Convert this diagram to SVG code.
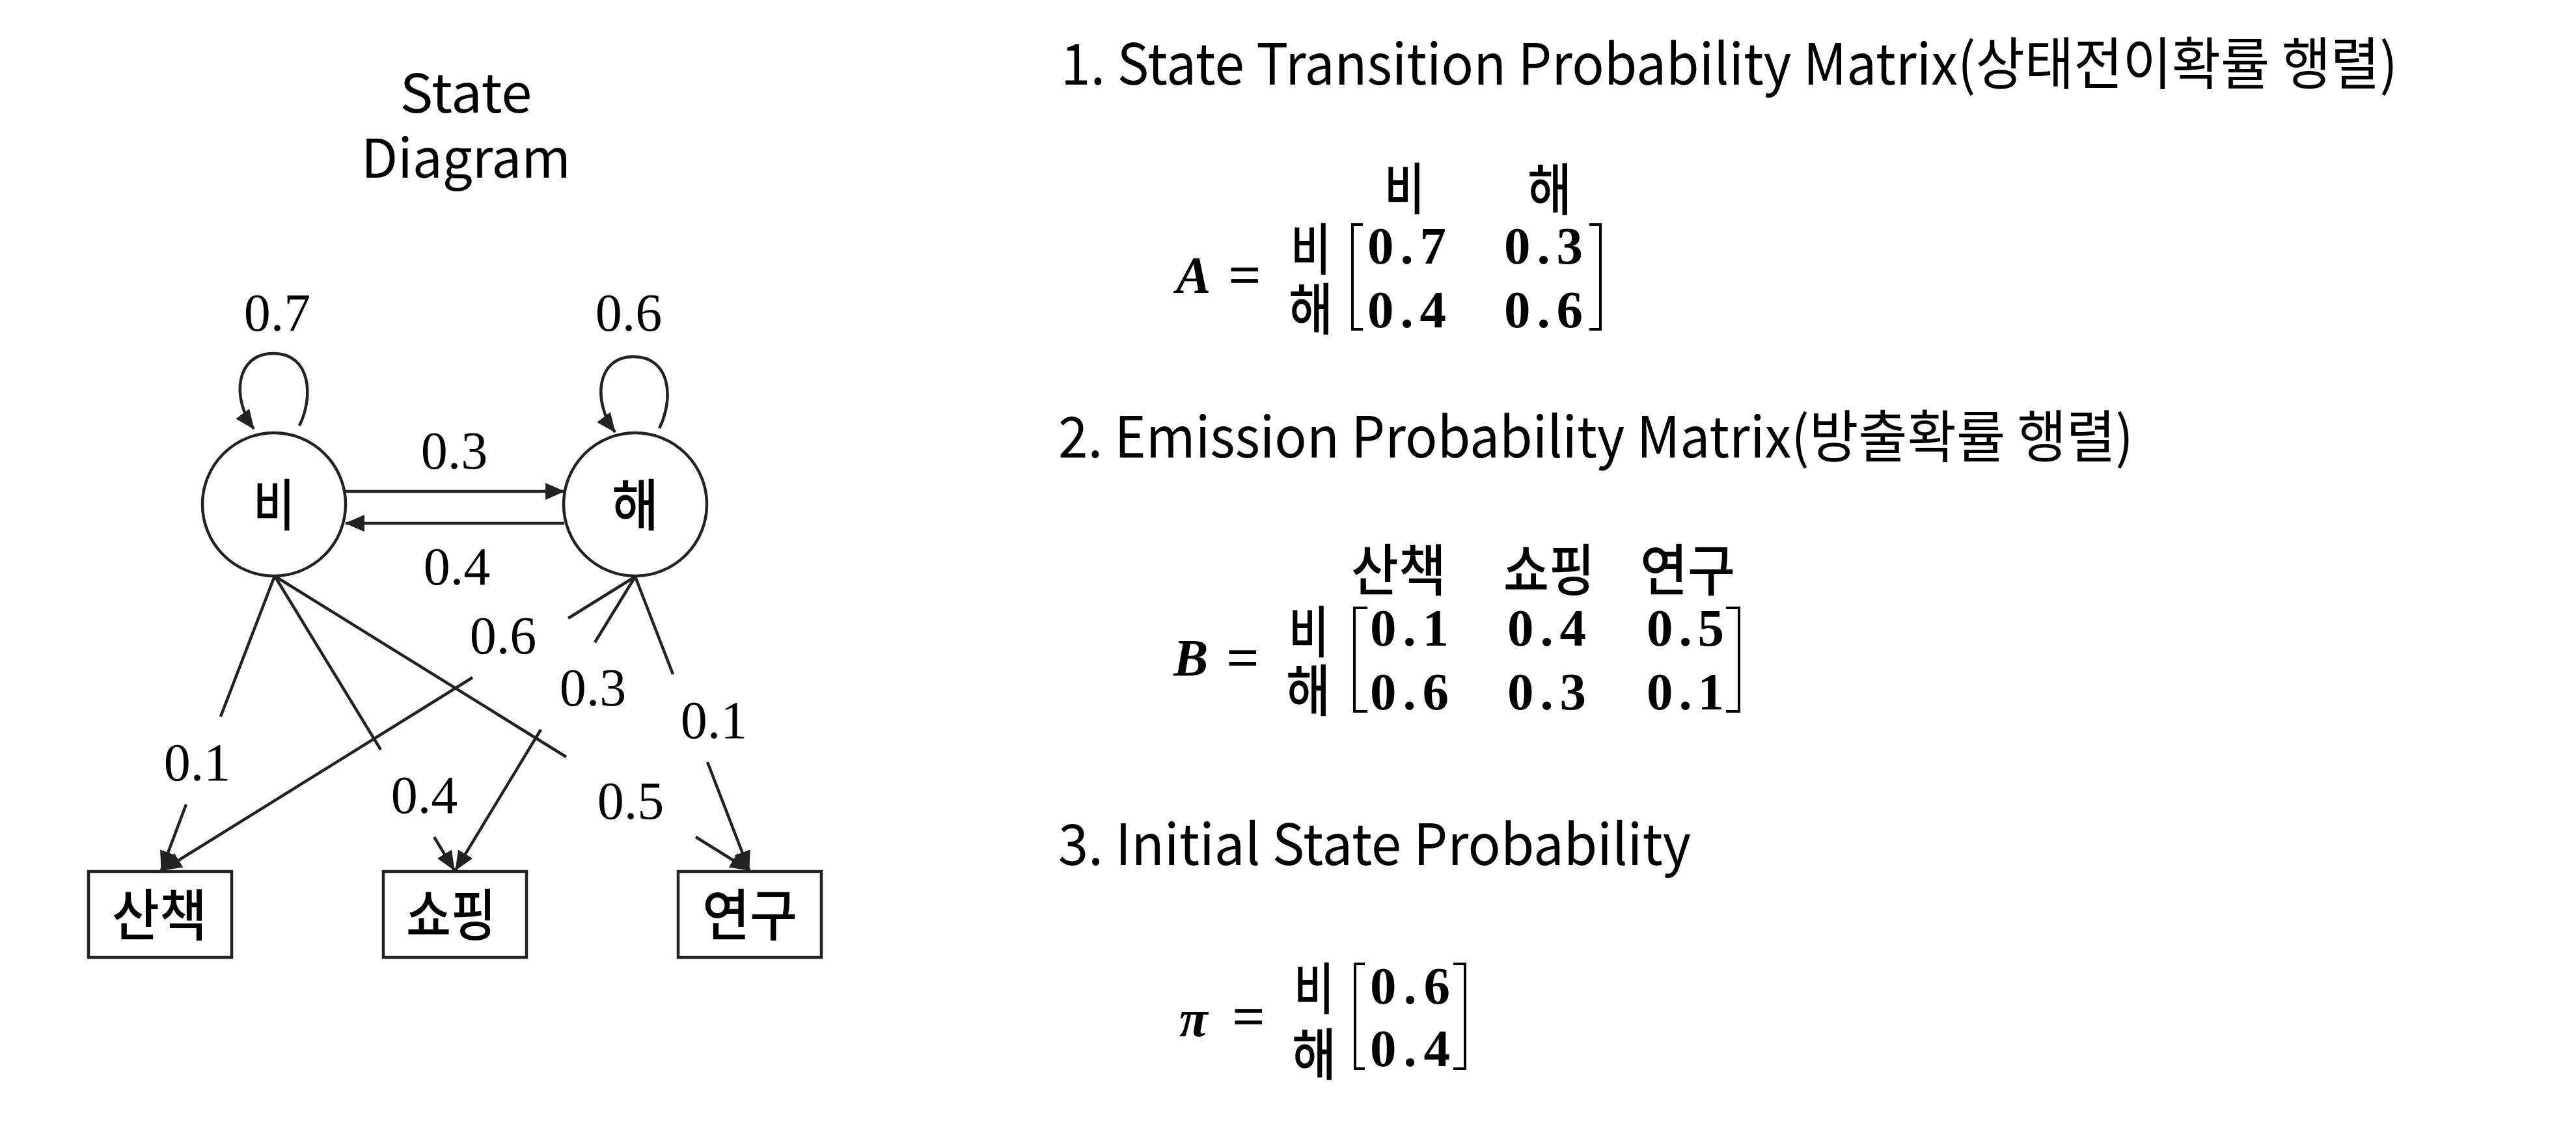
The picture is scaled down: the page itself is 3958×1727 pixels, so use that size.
<svg xmlns="http://www.w3.org/2000/svg" width="3958" height="1727" viewBox="0 0 3958 1727">
<style>
.sans{font-family:"Noto Sans CJK KR","Noto Sans",sans-serif;fill:#000}
.ko{font-family:"Noto Sans CJK KR","Noto Sans",sans-serif;font-size:86px;font-weight:500;text-anchor:middle;fill:#000}
.lab{font-family:"Liberation Serif",serif;font-size:82px;text-anchor:middle;fill:#000}
.num{font-family:"Liberation Serif",serif;font-weight:bold;font-size:81px;fill:#000}
.var{font-family:"Liberation Serif",serif;font-weight:bold;font-style:italic;font-size:80px;fill:#000}
.eq{font-family:"Liberation Serif",serif;font-size:86px;fill:#000;stroke:#000;stroke-width:1.5}
.ln{stroke:#222;stroke-width:4.5;fill:none}
.br{stroke:#000;stroke-width:4;fill:none}
.node{fill:#fff;stroke:#222;stroke-width:4.5}
</style>
<defs>
<marker id="arr" markerUnits="userSpaceOnUse" markerWidth="30" markerHeight="26" refX="29" refY="13" orient="auto">
<path d="M0,0 L30,13 L0,26 z" fill="#222"/>
</marker>
</defs>
<rect width="3958" height="1727" fill="#fff"/>

<g id="title">
<text class="sans" x="716" y="173" font-size="82" text-anchor="middle" textLength="203" lengthAdjust="spacingAndGlyphs">State</text>
<text class="sans" x="716" y="273" font-size="82" text-anchor="middle" textLength="322" lengthAdjust="spacingAndGlyphs">Diagram</text>
</g>

<g id="connectors">
<path class="ln" d="M 460 654 C 482 610, 478 543, 420 543 C 362 543, 355 612, 390 659" marker-end="url(#arr)"/>
<path class="ln" d="M 1013 658 C 1036 612, 1030 548, 973 548 C 916 548, 910 618, 945 664" marker-end="url(#arr)"/>
<path class="ln" d="M 531 755 L 867 755" marker-end="url(#arr)"/>
<path class="ln" d="M 867 804 L 531 804" marker-end="url(#arr)"/>
<path class="ln" d="M 422 885 L 339 1101 M 286 1236 L 248 1337" marker-end="url(#arr)"/>
<path class="ln" d="M 422 885 L 585 1152 M 667 1286 L 698 1337" marker-end="url(#arr)"/>
<path class="ln" d="M 422 885 L 870 1163 M 1069 1286 L 1151 1337" marker-end="url(#arr)"/>
<path class="ln" d="M 976 886 L 873 950 M 726 1041 L 250 1337" marker-end="url(#arr)"/>
<path class="ln" d="M 976 886 L 914 987 M 831 1121 L 700 1337" marker-end="url(#arr)"/>
<path class="ln" d="M 976 886 L 1034 1036 M 1087 1171 L 1151 1337" marker-end="url(#arr)"/>
<text class="lab" x="426" y="508">0.7</text>
<text class="lab" x="966" y="508">0.6</text>
<text class="lab" x="698" y="720">0.3</text>
<text class="lab" x="702" y="898">0.4</text>
<text class="lab" x="303" y="1199">0.1</text>
<text class="lab" x="652" y="1249">0.4</text>
<text class="lab" x="969" y="1258">0.5</text>
<text class="lab" x="773" y="1004">0.6</text>
<text class="lab" x="911" y="1084">0.3</text>
<text class="lab" x="1097" y="1134">0.1</text>
</g>

<g id="node-rain">
<circle class="node" cx="421" cy="775" r="110"/>
<text class="ko" x="421" y="808" textLength="64" lengthAdjust="spacingAndGlyphs">비</text>
</g>
<g id="node-sun">
<circle class="node" cx="976" cy="775" r="110"/>
<text class="ko" x="976" y="808" textLength="72" lengthAdjust="spacingAndGlyphs">해</text>
</g>
<g id="node-walk">
<rect class="node" x="136" y="1339" width="220" height="132" stroke-width="5"/>
<text class="ko" x="245" y="1438" textLength="146" lengthAdjust="spacingAndGlyphs">산책</text>
</g>
<g id="node-shop">
<rect class="node" x="589" y="1339" width="220" height="132" stroke-width="5"/>
<text class="ko" x="693" y="1438" textLength="138" lengthAdjust="spacingAndGlyphs">쇼핑</text>
</g>
<g id="node-study">
<rect class="node" x="1042" y="1339" width="220" height="132" stroke-width="5"/>
<text class="ko" x="1152" y="1438" textLength="146" lengthAdjust="spacingAndGlyphs">연구</text>
</g>

<g id="heading1">
<text class="sans" x="1630" y="130" font-size="87" textLength="2054" lengthAdjust="spacingAndGlyphs">1. State Transition Probability Matrix(상태전이확률 행렬)</text>
</g>
<g id="matrixA">
<text class="var" x="1807" y="450">A</text>
<text class="eq" x="1888" y="452">=</text>
<text class="ko" x="2158" y="322" textLength="62" lengthAdjust="spacingAndGlyphs">비</text>
<text class="ko" x="2381" y="323" textLength="68" lengthAdjust="spacingAndGlyphs">해</text>
<text class="ko" x="2014" y="415" textLength="62" lengthAdjust="spacingAndGlyphs">비</text>
<text class="ko" x="2014" y="507" textLength="68" lengthAdjust="spacingAndGlyphs">해</text>
<path class="br" d="M2094 345 H2078 V506 H2094"/>
<path class="br" d="M2442 345 H2459 V506 H2442"/>
<text class="num" x="2101" y="405" textLength="121" lengthAdjust="spacing">0.7</text>
<text class="num" x="2311" y="405" textLength="121" lengthAdjust="spacing">0.3</text>
<text class="num" x="2101" y="503" textLength="121" lengthAdjust="spacing">0.4</text>
<text class="num" x="2311" y="503" textLength="121" lengthAdjust="spacing">0.6</text>
</g>

<g id="heading2">
<text class="sans" x="1626" y="703" font-size="87" textLength="1652" lengthAdjust="spacingAndGlyphs">2. Emission Probability Matrix(방출확률 행렬)</text>
</g>
<g id="matrixB">
<text class="var" x="1803" y="1038">B</text>
<text class="eq" x="1885" y="1040">=</text>
<text class="ko" x="2149" y="908" textLength="146" lengthAdjust="spacingAndGlyphs">산책</text>
<text class="ko" x="2380" y="908" textLength="140" lengthAdjust="spacingAndGlyphs">쇼핑</text>
<text class="ko" x="2593" y="908" textLength="146" lengthAdjust="spacingAndGlyphs">연구</text>
<text class="ko" x="2011" y="1003" textLength="62" lengthAdjust="spacingAndGlyphs">비</text>
<text class="ko" x="2010" y="1093" textLength="68" lengthAdjust="spacingAndGlyphs">해</text>
<path class="br" d="M2101 934 H2081 V1093 H2101"/>
<path class="br" d="M2652 934 H2672 V1093 H2652"/>
<text class="num" x="2105" y="992" textLength="121" lengthAdjust="spacing">0.1</text>
<text class="num" x="2316" y="992" textLength="121" lengthAdjust="spacing">0.4</text>
<text class="num" x="2530" y="992" textLength="119" lengthAdjust="spacing">0.5</text>
<text class="num" x="2105" y="1090" textLength="121" lengthAdjust="spacing">0.6</text>
<text class="num" x="2316" y="1090" textLength="121" lengthAdjust="spacing">0.3</text>
<text class="num" x="2530" y="1090" textLength="119" lengthAdjust="spacing">0.1</text>
</g>

<g id="heading3">
<text class="sans" x="1626" y="1329" font-size="87" textLength="972" lengthAdjust="spacingAndGlyphs">3. Initial State Probability</text>
</g>
<g id="vectorPi">
<text class="var" x="1812" y="1592">π</text>
<text class="eq" x="1894" y="1591">=</text>
<text class="ko" x="2019" y="1551" textLength="62" lengthAdjust="spacingAndGlyphs">비</text>
<text class="ko" x="2019" y="1652" textLength="68" lengthAdjust="spacingAndGlyphs">해</text>
<path class="br" d="M2097 1481 H2082 V1642 H2097"/>
<path class="br" d="M2233 1481 H2251 V1642 H2233"/>
<text class="num" x="2105" y="1542" textLength="123" lengthAdjust="spacing">0.6</text>
<text class="num" x="2105" y="1638" textLength="123" lengthAdjust="spacing">0.4</text>
</g>
</svg>
